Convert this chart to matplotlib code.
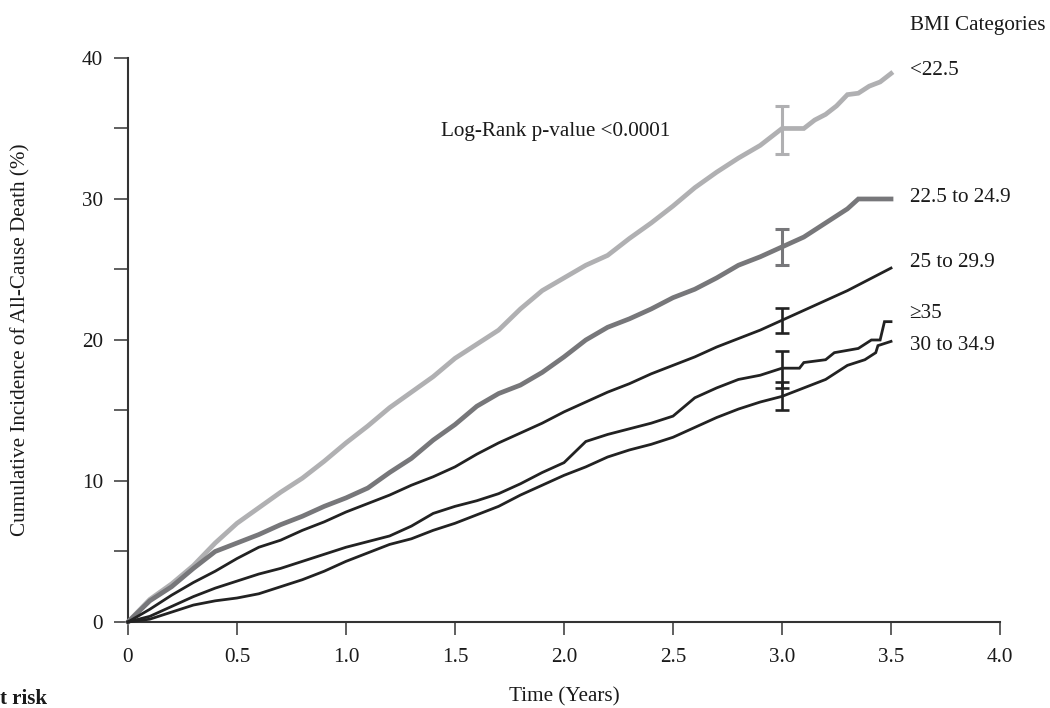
import matplotlib
matplotlib.use("Agg")
import matplotlib.pyplot as plt
from matplotlib.ticker import MultipleLocator

plt.rcParams['font.family'] = ['Liberation Serif', 'DejaVu Serif']

# ---- data ----
t_grid = [0.0, 0.1, 0.2, 0.3, 0.4, 0.5, 0.6, 0.7, 0.8, 0.9, 1.0, 1.1, 1.2, 1.3, 1.4,
          1.5, 1.6, 1.7, 1.8, 1.9, 2.0, 2.1, 2.2, 2.3, 2.4, 2.5, 2.6, 2.7, 2.8, 2.9, 3.0]

t_lt225 = t_grid + [3.1, 3.15, 3.2, 3.25, 3.3, 3.35, 3.4, 3.45, 3.5]
y_lt225 = [0.0, 1.6, 2.7, 4.0, 5.6, 7.0, 8.1, 9.2, 10.2, 11.4, 12.7, 13.9, 15.2, 16.3, 17.4,
           18.7, 19.7, 20.7, 22.2, 23.5, 24.4, 25.3, 26.0, 27.2, 28.3, 29.5, 30.8, 31.9, 32.9, 33.8, 35.0,
           35.0, 35.6, 36.0, 36.6, 37.4, 37.5, 38.0, 38.3, 38.9]

t_225 = t_grid + [3.1, 3.2, 3.3, 3.35, 3.5]
y_225 = [0.0, 1.5, 2.5, 3.8, 5.0, 5.6, 6.2, 6.9, 7.5, 8.2, 8.8, 9.5, 10.6, 11.6, 12.9,
         14.0, 15.3, 16.2, 16.8, 17.7, 18.8, 20.0, 20.9, 21.5, 22.2, 23.0, 23.6, 24.4, 25.3, 25.9, 26.6,
         27.3, 28.3, 29.3, 30.0, 30.0]

t_25 = t_grid + [3.1, 3.2, 3.3, 3.4, 3.5]
y_25 = [0.0, 0.9, 1.9, 2.8, 3.6, 4.5, 5.3, 5.8, 6.5, 7.1, 7.8, 8.4, 9.0, 9.7, 10.3,
        11.0, 11.9, 12.7, 13.4, 14.1, 14.9, 15.6, 16.3, 16.9, 17.6, 18.2, 18.8, 19.5, 20.1, 20.7, 21.4,
        22.1, 22.8, 23.5, 24.3, 25.1]

t_35 = t_grid + [3.08, 3.1, 3.2, 3.24, 3.35, 3.41, 3.45, 3.47, 3.5]
y_35 = [0.0, 0.4, 1.1, 1.8, 2.4, 2.9, 3.4, 3.8, 4.3, 4.8, 5.3, 5.7, 6.1, 6.8, 7.7,
        8.2, 8.6, 9.1, 9.8, 10.6, 11.3, 12.8, 13.3, 13.7, 14.1, 14.6, 15.9, 16.6, 17.2, 17.5, 18.0,
        18.0, 18.4, 18.6, 19.1, 19.4, 20.0, 20.0, 21.3, 21.3]

t_30 = t_grid + [3.1, 3.2, 3.3, 3.38, 3.43, 3.44, 3.5]
y_30 = [0.0, 0.2, 0.7, 1.2, 1.5, 1.7, 2.0, 2.5, 3.0, 3.6, 4.3, 4.9, 5.5, 5.9, 6.5,
        7.0, 7.6, 8.2, 9.0, 9.7, 10.4, 11.0, 11.7, 12.2, 12.6, 13.1, 13.8, 14.5, 15.1, 15.6, 16.0,
        16.6, 17.2, 18.2, 18.6, 19.1, 19.6, 19.9]

labels = ["<22.5", "22.5 to 24.9", "25 to 29.9", "\u226535", "30 to 34.9"]
label_y = [39.1, 30.1, 25.5, 21.9, 19.6]

# error bars at 3 years: centre, lower, upper
eb_x = 3.0
eb_lt225 = (35.0, 33.2, 36.6)
eb_225 = (26.6, 25.3, 27.9)
eb_25 = (21.4, 20.5, 22.3)
eb_35 = (18.0, 16.6, 19.2)
eb_30 = (16.0, 15.0, 17.0)

x_ticks = [0, 0.5, 1.0, 1.5, 2.0, 2.5, 3.0, 3.5, 4.0]
x_ticklabels = ["0", "0.5", "1.0", "1.5", "2.0", "2.5", "3.0", "3.5", "4.0"]
y_ticks = [0, 10, 20, 30, 40]

FS = 15.2

# ---- figure ----
fig = plt.figure(figsize=(10.5, 7.08), dpi=100)
ax = fig.add_axes([0.1219, 0.1215, 0.8305, 0.7966])

c_light = '#b0b0b2'
c_mid = '#77777a'
c_dark = '#222222'

series = [
    (t_lt225, y_lt225, c_light, 3.4, eb_lt225),
    (t_225, y_225, c_mid, 3.4, eb_225),
    (t_25, y_25, c_dark, 2.0, eb_25),
    (t_35, y_35, c_dark, 2.0, eb_35),
    (t_30, y_30, c_dark, 2.0, eb_30),
]
for t, y, c, lw, eb in series:
    ax.plot(t, y, color=c, lw=lw, solid_joinstyle='miter', zorder=3, clip_on=False)
    ctr, lo, hi = eb
    ax.errorbar([eb_x], [ctr], yerr=[[ctr - lo], [hi - ctr]], fmt='none',
                ecolor=c, elinewidth=2.2 if lw > 3 else 1.9,
                capsize=5, capthick=2.2 if lw > 3 else 1.9, zorder=4)

for lab, ly in zip(labels, label_y):
    ax.text(3.585, ly, lab, fontsize=FS, color='#1a1a1a', ha='left', va='center',
            family=['Liberation Serif', 'DejaVu Serif'])

ax.text(3.585, 42.3, "BMI Categories", fontsize=FS, color='#1a1a1a', ha='left', va='center')
ax.text(1.96, 34.8, "Log-Rank p-value <0.0001", fontsize=FS, color='#1a1a1a',
        ha='center', va='center')

ax.set_xlim(0, 4.0)
ax.set_ylim(0, 40)
ax.set_xticks(x_ticks)
ax.set_xticklabels(x_ticklabels)
ax.set_yticks(y_ticks)
ax.yaxis.set_minor_locator(MultipleLocator(5))

for s in ['top', 'right']:
    ax.spines[s].set_visible(False)
for s in ['left', 'bottom']:
    ax.spines[s].set_linewidth(1.5)
    ax.spines[s].set_color('#333333')

ax.tick_params(axis='x', which='major', direction='out', length=9, width=1.2,
               color='#444444', labelsize=FS, labelcolor='#1a1a1a', pad=10)
ax.tick_params(axis='y', which='both', direction='out', length=10, width=1.2,
               color='#444444', labelsize=FS, labelcolor='#1a1a1a', pad=8)

ax.set_xlabel("Time (Years)", fontsize=FS, color='#1a1a1a', labelpad=14)
ax.set_ylabel("Cumulative Incidence of All-Cause Death (%)", fontsize=FS,
              color='#1a1a1a', labelpad=37)

fig.text(0.0, 4 / 708, "t risk", fontsize=15, fontweight='bold', color='#1a1a1a',
         ha='left', va='baseline')

fig.savefig("out.png", dpi=100)
